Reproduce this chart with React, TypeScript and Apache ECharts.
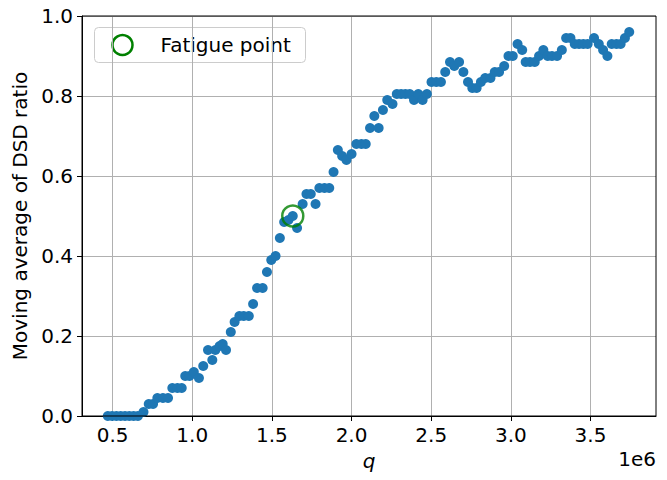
import React, { useEffect, useRef } from "react";
import * as echarts from "echarts";

// Load cycles q (raw counts) and the moving-average DSD ratio at each one
const qValues: number[] = [
  470000, 497000, 524000, 551000, 578000, 605000, 632000, 659000, 694000, 727000,
  754000, 781000, 816000, 848000, 875000, 907000, 934000, 956000, 983000, 1010000,
  1042000, 1069000, 1099000, 1126000, 1145000, 1172000, 1191000, 1212000, 1242000, 1266000,
  1296000, 1323000, 1355000, 1382000, 1407000, 1442000, 1469000, 1496000, 1523000, 1550000,
  1577000, 1604000, 1631000, 1658000, 1693000, 1717000, 1744000, 1774000, 1798000, 1830000,
  1860000, 1887000, 1914000, 1941000, 1968000, 2000000, 2030000, 2062000, 2089000, 2116000,
  2143000, 2170000, 2197000, 2224000, 2257000, 2284000, 2311000, 2338000, 2365000, 2392000,
  2419000, 2446000, 2473000, 2502000, 2532000, 2561000, 2588000, 2618000, 2645000, 2675000,
  2702000, 2731000, 2758000, 2785000, 2812000, 2839000, 2872000, 2899000, 2926000, 2958000,
  2985000, 3012000, 3042000, 3071000, 3093000, 3120000, 3150000, 3177000, 3204000, 3231000,
  3258000, 3290000, 3320000, 3347000, 3374000, 3401000, 3428000, 3455000, 3482000, 3522000,
  3552000, 3579000, 3606000, 3633000, 3663000, 3689000, 3716000, 3743000,
];

const ratioValues: number[] = [
  0, 0, 0, 0, 0, 0, 0, 0, 0.01, 0.03,
  0.03, 0.045, 0.045, 0.045, 0.07, 0.07, 0.07, 0.1, 0.1, 0.11,
  0.095, 0.125, 0.165, 0.14, 0.165, 0.175, 0.18, 0.165, 0.21, 0.235,
  0.25, 0.25, 0.25, 0.28, 0.32, 0.32, 0.36, 0.39, 0.4, 0.445,
  0.485, 0.49, 0.5, 0.47, 0.53, 0.555, 0.555, 0.53, 0.57, 0.57,
  0.57, 0.61, 0.665, 0.65, 0.64, 0.655, 0.68, 0.68, 0.68, 0.72,
  0.75, 0.72, 0.765, 0.79, 0.78, 0.805, 0.805, 0.805, 0.805, 0.79,
  0.805, 0.79, 0.805, 0.835, 0.835, 0.835, 0.86, 0.885, 0.875, 0.885,
  0.86, 0.835, 0.82, 0.82, 0.835, 0.845, 0.845, 0.86, 0.86, 0.875,
  0.9, 0.9, 0.93, 0.915, 0.885, 0.885, 0.885, 0.9, 0.915, 0.9,
  0.9, 0.9, 0.915, 0.945, 0.945, 0.93, 0.93, 0.93, 0.93, 0.945,
  0.93, 0.915, 0.9, 0.93, 0.93, 0.93, 0.945, 0.96,
];

// Detected fatigue point
const fatigueQ: number[] = [1631000];
const fatigueRatio: number[] = [0.5];

const xTicks: number[] = [500000, 1000000, 1500000, 2000000, 2500000, 3000000, 3500000];

const FONT = "DejaVu Sans";
const GRID = { left: 82, right: 11, top: 16, bottom: 64 };
const W = 667;
const H = 480;

export default function App() {
  const ref = useRef<HTMLDivElement>(null);

  useEffect(() => {
    if (!ref.current) return;
    const chart = echarts.init(ref.current, undefined, { renderer: "svg" });

    const points = qValues.map((q, i) => [q, ratioValues[i]]);
    const fatigue = fatigueQ.map((q, i) => [q, fatigueRatio[i]]);

    chart.setOption({
      animation: false,
      backgroundColor: "#ffffff",
      grid: { ...GRID },
      xAxis: {
        type: "value",
        min: 308000,
        max: 3911000,
        name: "q",
        nameLocation: "middle",
        nameGap: 35,
        nameTextStyle: { fontFamily: FONT, fontSize: 20, fontStyle: "italic", color: "#000" },
        axisLine: { show: true, onZero: false, lineStyle: { color: "#000", width: 1 } },
        axisTick: { show: true, inside: false, length: 5, customValues: xTicks, lineStyle: { color: "#000" } },
        axisLabel: {
          customValues: xTicks,
          margin: 9,
          fontFamily: FONT,
          fontSize: 20,
          color: "#000",
          formatter: (v: number) => (v / 1e6).toFixed(1),
        },
        splitLine: { show: true, lineStyle: { color: "#b0b0b0", width: 1 } },
      },
      yAxis: {
        type: "value",
        min: 0,
        max: 1,
        interval: 0.2,
        name: "Moving average of DSD ratio",
        nameLocation: "middle",
        nameGap: 52,
        nameTextStyle: { fontFamily: FONT, fontSize: 20, color: "#000" },
        axisLine: { show: true, lineStyle: { color: "#000", width: 1 } },
        axisTick: { show: true, inside: false, length: 5, lineStyle: { color: "#000" } },
        axisLabel: {
          margin: 9,
          fontFamily: FONT,
          fontSize: 20,
          color: "#000",
          formatter: (v: number) => v.toFixed(1),
        },
        splitLine: { show: true, lineStyle: { color: "#b0b0b0", width: 1 } },
      },
      graphic: [
        {
          type: "rect",
          silent: true,
          z: 10,
          shape: { x: GRID.left, y: GRID.top, width: W - GRID.left - GRID.right, height: H - GRID.top - GRID.bottom },
          style: { fill: "none", stroke: "#000", lineWidth: 1 },
        },
        {
          type: "text",
          right: GRID.right,
          top: 449,
          style: { text: "1e6", font: `20px "${FONT}"`, fill: "#000" },
        },
        {
          type: "group",
          left: 94,
          top: 27,
          z: 20,
          children: [
            {
              type: "rect",
              shape: { x: 0, y: 0, width: 211, height: 35, r: 4 },
              style: { fill: "rgba(255,255,255,0.8)", stroke: "#cccccc", lineWidth: 1 },
            },
            {
              type: "circle",
              shape: { cx: 28, cy: 17.5, r: 10 },
              style: { fill: "none", stroke: "#008000", lineWidth: 2.5 },
            },
            {
              type: "text",
              x: 66,
              y: 17.5,
              style: { text: "Fatigue point", font: `20px "${FONT}"`, fill: "#000", verticalAlign: "middle" },
            },
          ],
        },
      ],
      series: [
        {
          type: "scatter",
          data: points,
          symbol: "circle",
          symbolSize: 10,
          itemStyle: { color: "#1f77b4", opacity: 1 },
          z: 2,
        },
        {
          type: "scatter",
          name: "Fatigue point",
          data: fatigue,
          symbol: "circle",
          symbolSize: 21,
          itemStyle: { color: "rgba(0,0,0,0)", borderColor: "#008000", borderWidth: 2.5 },
          z: 3,
        },
      ],
    });

    return () => chart.dispose();
  }, []);

  return <div ref={ref} style={{ width: W, height: H, margin: -8 }} />;
}
